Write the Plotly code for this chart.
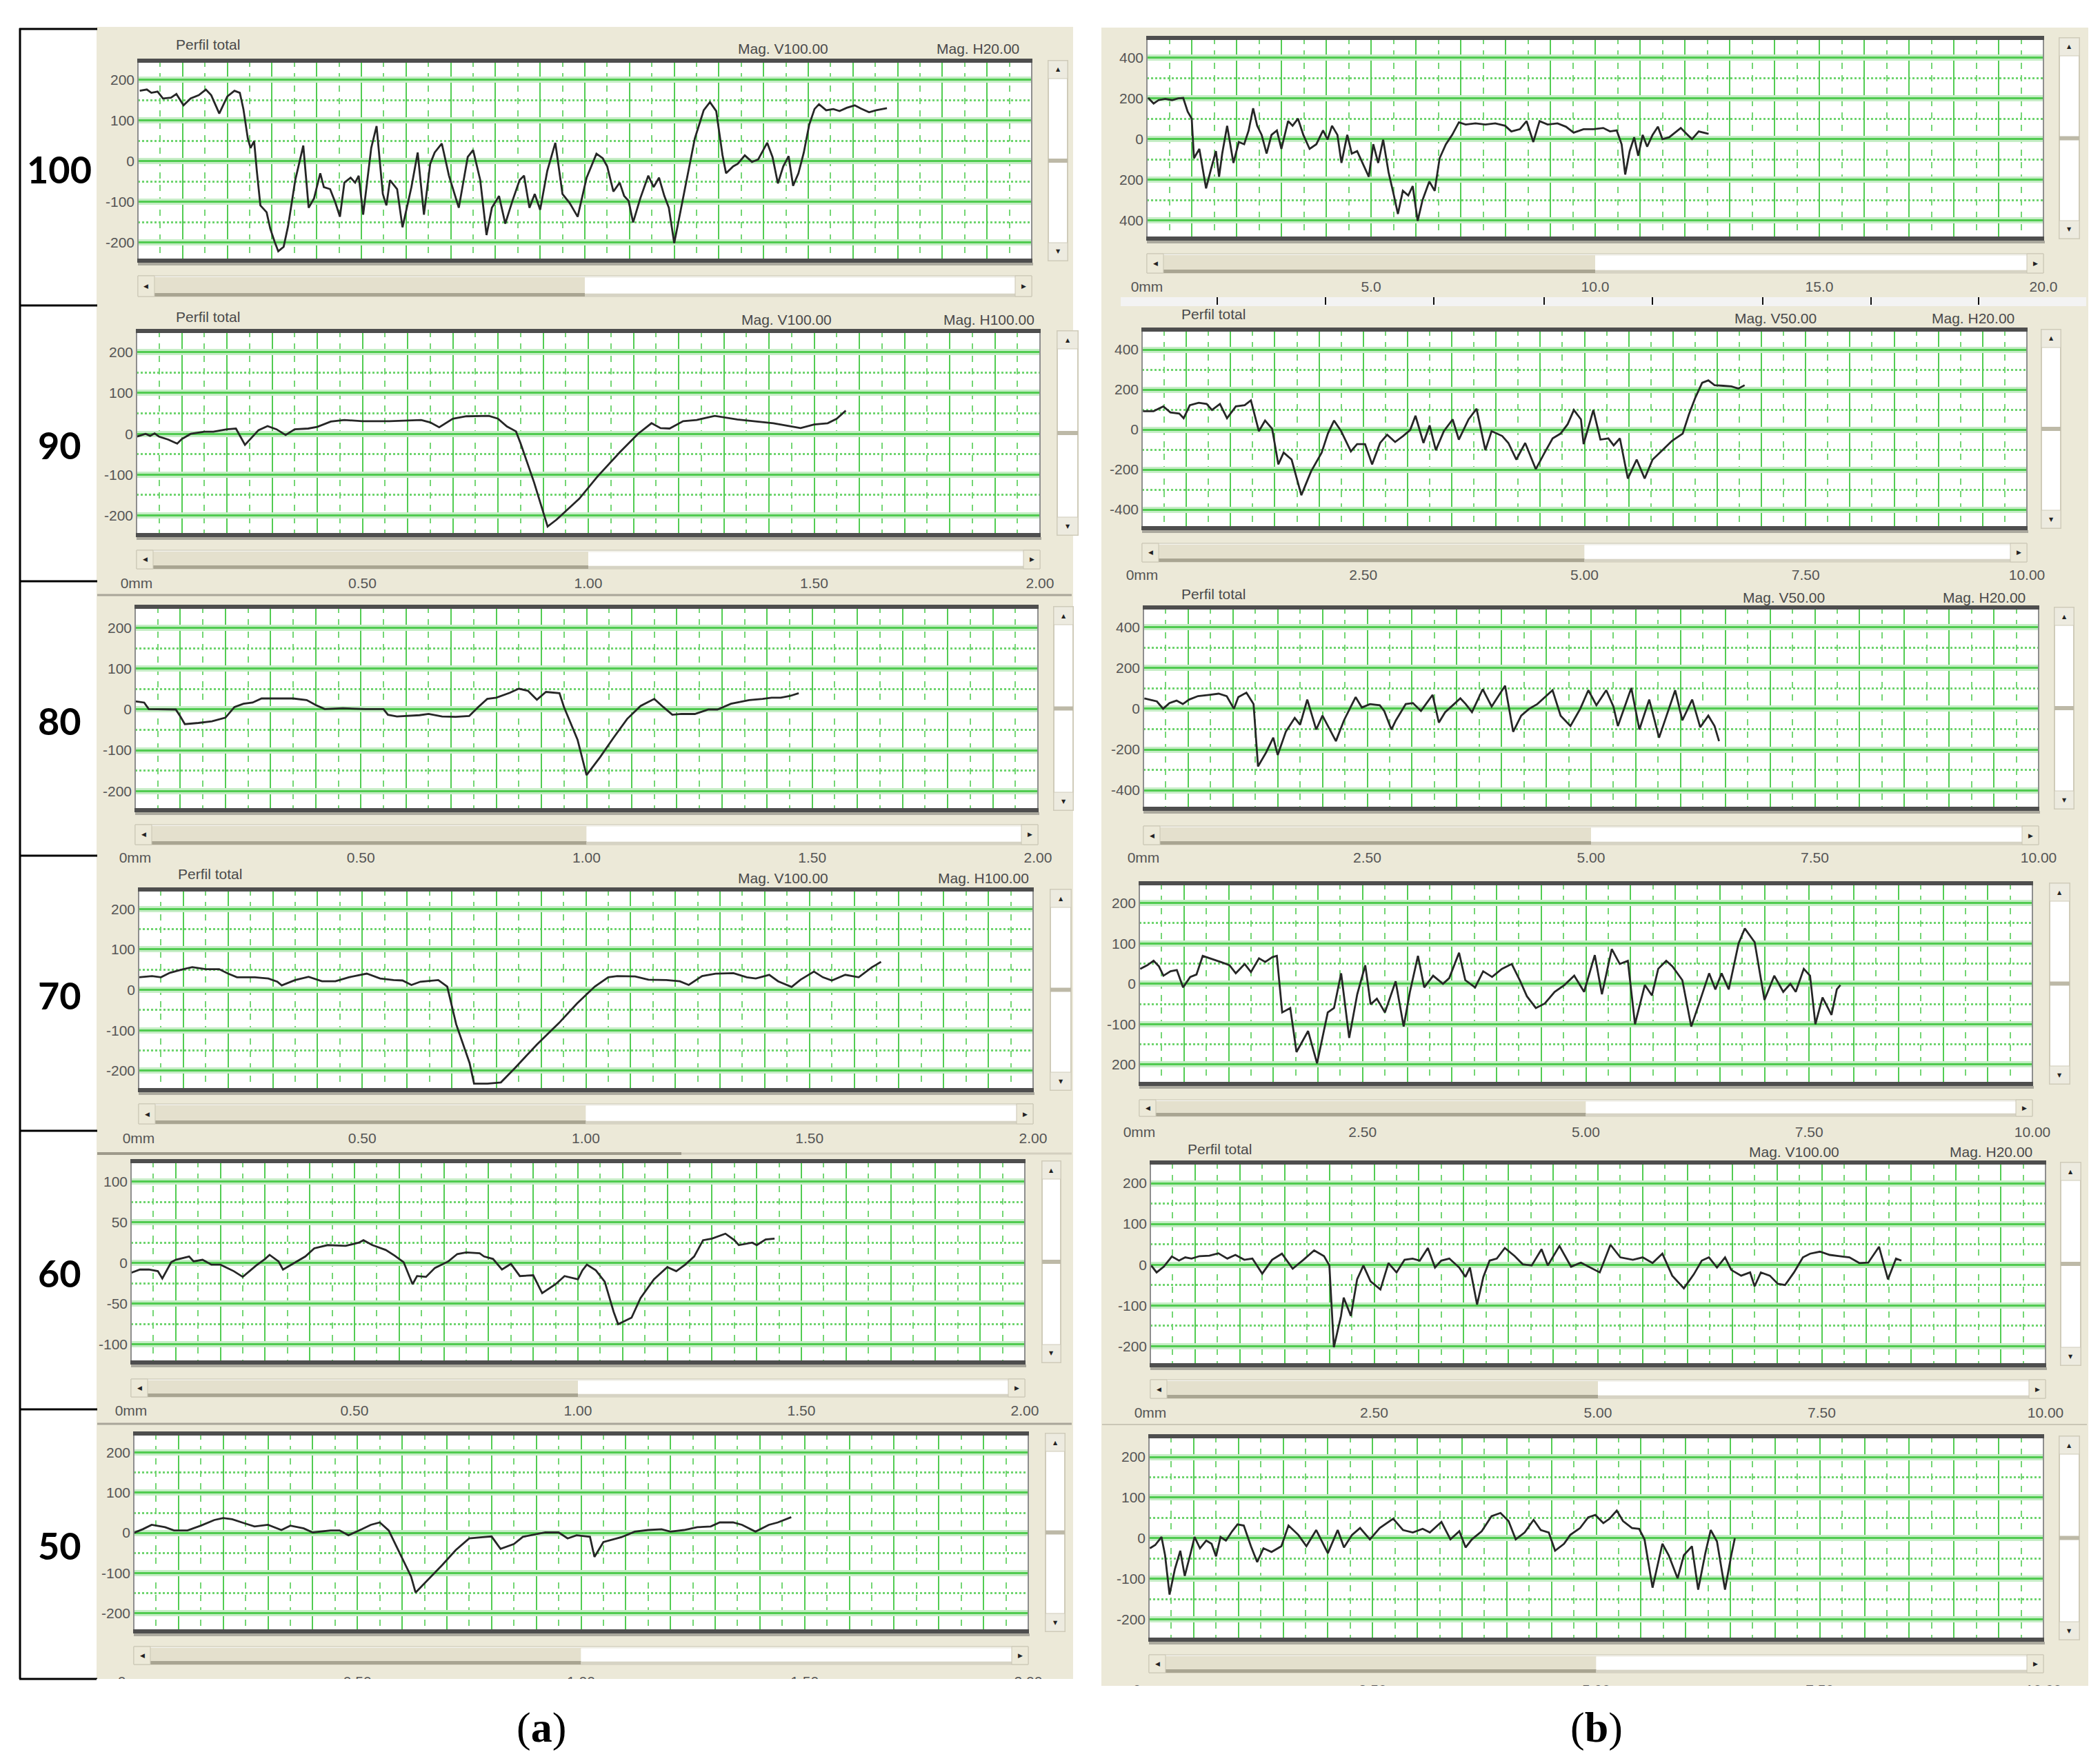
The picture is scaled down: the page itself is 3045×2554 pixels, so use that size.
import numpy as np
import plotly.graph_objects as go

W, H = 3045, 2554

# ---------------- data (x in mm, y in µm) ----------------
A100_X = [0.02,0.10,0.15,0.22,0.28,0.37,0.43,0.51,0.59,0.68,0.76,0.82,0.91,1.00,1.08,1.14,1.18,1.23,1.26,1.30,
          1.33,1.37,1.44,1.48,1.53,1.57,1.63,1.68,1.76,1.85,1.91,1.97,2.04,2.08,2.15,2.21,2.26,2.31,2.38,2.43,
          2.47,2.52,2.61,2.67,2.74,2.78,2.82,2.90,2.96,3.06,3.13,3.20,3.27,3.32,3.40,3.48,3.59,3.69,3.75,3.83,
          3.90,3.96,4.04,4.11,4.19,4.27,4.32,4.38,4.44,4.50,4.58,4.67,4.75,4.83,4.92,5.02,5.13,5.20,5.25,5.32,
          5.39,5.44,5.49,5.54,5.62,5.71,5.77,5.83,5.89,5.94,6.00,6.12,6.23,6.33,6.40,6.47,6.54,6.58,6.66,6.71,
          6.79,6.87,6.94,7.04,7.10,7.16,7.22,7.28,7.33,7.39,7.45,7.51,7.57,7.62,7.70,7.78,7.85,7.93,8.02,8.09,
          8.18,8.26,8.32,8.38]
A100_Y = [173,176,168,171,154,156,165,137,154,162,176,162,117,159,173,168,128,55,32,49,
          -24,-109,-126,-166,-199,-222,-211,-160,-47,38,-115,-92,-30,-64,-69,-103,-137,-53,-41,-53,
          -36,-132,32,86,-81,-109,-47,-69,-163,-64,21,-132,-7,21,43,-36,-115,10,27,-47,
          -182,-115,-86,-154,-98,-47,-36,-115,-81,-120,-24,45,-81,-103,-137,-41,18,7,-13,-75,
          -53,-86,-98,-151,-92,-36,-64,-41,-86,-115,-202,-69,55,125,145,123,15,-30,-13,-7,
          14,-2,4,45,10,-55,-13,12,-61,-30,21,89,128,140,125,128,123,131,137,129,
          120,125,128,130]

A90_X = [0.00,0.02,0.03,0.04,0.05,0.07,0.09,0.10,0.12,0.15,0.17,0.20,0.22,0.24,0.27,0.29,0.31,0.33,0.35,0.38,
         0.40,0.43,0.46,0.50,0.56,0.63,0.65,0.67,0.70,0.73,0.78,0.80,0.82,0.84,0.85,0.88,0.91,0.93,0.98,1.02,
         1.07,1.11,1.14,1.16,1.18,1.21,1.24,1.28,1.33,1.37,1.41,1.44,1.47,1.50,1.53,1.55,1.57]
A90_Y = [-7,0,-5,1,-7,-14,-24,-13,0,5,5,11,13,-27,9,19,11,-3,11,13,
         17,30,34,31,31,34,28,16,37,43,44,37,18,6,-23,-119,-227,-210,-159,-105,
         -45,0,26,14,13,31,34,44,35,31,26,20,14,23,26,37,57]

A80_X = [0.00,0.02,0.03,0.06,0.09,0.10,0.11,0.14,0.17,0.20,0.22,0.24,0.26,0.28,0.32,0.35,0.38,0.40,0.42,0.46,
         0.51,0.55,0.56,0.58,0.63,0.65,0.68,0.71,0.74,0.76,0.78,0.80,0.83,0.85,0.87,0.89,0.91,0.94,0.95,0.98,
         1.00,1.03,1.06,1.09,1.12,1.15,1.17,1.19,1.21,1.24,1.27,1.29,1.32,1.34,1.36,1.39,1.41,1.43,1.45,1.47]
A80_Y = [20,17,1,0,0,-17,-36,-33,-29,-20,6,14,17,27,27,27,23,11,1,3,
         1,1,-13,-17,-14,-11,-17,-18,-16,6,26,29,41,51,46,24,43,40,6,-74,
         -161,-117,-69,-23,9,26,6,-13,-11,-11,0,0,14,18,23,26,29,29,33,40]

A70_X = [0.00,0.03,0.05,0.07,0.10,0.12,0.15,0.18,0.20,0.22,0.26,0.29,0.31,0.32,0.35,0.38,0.41,0.44,0.47,0.51,
         0.54,0.57,0.59,0.61,0.63,0.67,0.69,0.71,0.74,0.75,0.78,0.81,0.84,0.89,0.94,0.98,1.02,1.05,1.07,1.11,
         1.14,1.18,1.21,1.23,1.26,1.29,1.33,1.36,1.38,1.41,1.43,1.46,1.48,1.51,1.53,1.55,1.58,1.61,1.64,1.66]
A70_Y = [31,34,31,42,51,56,51,51,40,31,31,28,20,11,24,32,21,21,31,40,
         28,24,23,12,20,24,8,-85,-181,-232,-232,-229,-195,-136,-82,-34,8,31,34,33,
         25,24,21,12,34,40,41,31,28,37,21,7,25,45,31,23,37,31,56,69]

A60_X = [0.00,0.02,0.04,0.06,0.07,0.09,0.10,0.13,0.14,0.16,0.18,0.20,0.23,0.25,0.28,0.30,0.31,0.33,0.34,0.37,
         0.39,0.41,0.44,0.48,0.51,0.52,0.54,0.57,0.59,0.61,0.63,0.64,0.66,0.68,0.71,0.73,0.75,0.78,0.79,0.81,
         0.83,0.85,0.87,0.90,0.92,0.95,0.97,1.00,1.01,1.02,1.04,1.06,1.08,1.09,1.12,1.14,1.17,1.20,1.22,1.24,
         1.26,1.28,1.30,1.33,1.35,1.36,1.39,1.40,1.42,1.44]
A60_Y = [-12,-8,-8,-10,-19,1,4,8,2,4,-2,-2,-10,-17,-3,5,10,2,-8,2,
         8,18,22,21,25,28,22,16,9,1,-26,-16,-17,-6,2,11,13,12,8,5,
         -8,-1,-16,-15,-37,-26,-16,-20,-9,-2,-9,-23,-60,-75,-67,-43,-20,-5,-10,-2,
         8,28,30,36,28,22,25,22,29,30]

A50_X = [0.00,0.02,0.04,0.07,0.09,0.12,0.15,0.18,0.20,0.22,0.25,0.27,0.30,0.33,0.35,0.38,0.40,0.44,0.46,0.48,
         0.51,0.53,0.55,0.57,0.59,0.62,0.63,0.65,0.69,0.72,0.75,0.78,0.80,0.82,0.85,0.87,0.89,0.92,0.95,0.97,
         0.99,1.02,1.03,1.05,1.09,1.12,1.15,1.18,1.20,1.23,1.26,1.29,1.31,1.34,1.36,1.39,1.42,1.44,1.47]
A50_Y = [0,9,20,14,6,6,18,32,37,34,23,16,20,7,18,11,1,6,6,-6,
         9,20,26,6,-40,-109,-149,-126,-80,-43,-14,-11,-9,-40,-28,-10,-6,1,1,-14,
         -6,-10,-60,-23,-11,3,7,9,3,7,14,16,26,26,20,3,20,26,39]

B100_X = [0.03,0.15,0.26,0.41,0.56,0.70,0.81,0.91,1.00,1.05,1.17,1.32,1.44,1.54,1.61,1.68,1.79,1.93,2.05,2.17,
          2.27,2.37,2.46,2.56,2.67,2.78,2.90,3.00,3.15,3.25,3.37,3.49,3.63,3.78,3.93,4.03,4.13,4.25,4.34,4.47,
          4.57,4.69,4.81,4.95,5.05,5.16,5.27,5.39,5.51,5.60,5.71,5.83,5.93,6.04,6.15,6.30,6.42,6.53,6.67,6.81,
          6.96,7.11,7.33,7.55,7.77,7.99,8.13,8.32,8.47,8.62,8.76,8.94,9.16,9.35,9.52,9.74,9.96,10.18,10.33,10.48,
          10.59,10.67,10.77,10.87,10.96,11.06,11.16,11.28,11.40,11.50,11.65,11.79,11.91,12.04,12.16,12.31,12.43,12.53]
B100_Y = [203,175,192,198,192,201,203,135,101,-94,-48,-242,-139,-59,-185,-71,66,-117,-14,-25,
          43,152,66,21,-71,21,43,-48,89,66,101,21,-48,-25,43,-2,66,21,-117,21,
          -71,-59,-117,-185,-25,-117,-2,-162,-277,-368,-254,-277,-231,-402,-299,-208,-254,-94,-25,21,
          83,72,78,72,78,66,38,49,89,-14,89,72,78,61,32,49,49,55,38,43,
          -25,-174,-59,9,-82,21,-37,21,61,0,9,34,55,26,0,38,32,26]

B90_X = [0.01,0.13,0.24,0.32,0.42,0.47,0.54,0.64,0.73,0.79,0.88,0.96,1.06,1.16,1.23,1.28,1.32,1.39,1.47,1.54,
         1.60,1.69,1.80,1.91,2.03,2.10,2.17,2.25,2.36,2.43,2.52,2.60,2.69,2.77,2.86,2.95,3.03,3.09,3.18,3.25,
         3.32,3.41,3.51,3.58,3.69,3.78,3.88,3.95,4.07,4.14,4.23,4.33,4.45,4.55,4.64,4.73,4.81,4.88,4.96,4.99,
         5.10,5.18,5.27,5.33,5.40,5.49,5.59,5.68,5.77,5.88,5.99,6.11,6.18,6.25,6.33,6.40,6.47,6.57,6.66,6.74,
         6.81]
B90_Y = [92,92,116,86,80,57,122,134,128,98,128,57,116,122,146,63,-8,45,4,-174,
         -115,-150,-328,-209,-115,-20,45,-8,-109,-73,-73,-174,-67,-26,-62,-32,-2,69,-67,21,
         -103,-8,51,-50,51,104,-103,-8,-32,-67,-150,-67,-198,-115,-44,-20,27,98,51,-73,
         98,-50,-44,-79,-44,-245,-150,-245,-150,-103,-56,-20,75,157,234,246,222,219,216,205,
         222]

B80_X = [0.01,0.07,0.15,0.22,0.29,0.37,0.44,0.51,0.61,0.73,0.84,0.93,1.01,1.06,1.15,1.23,1.28,1.37,1.45,1.50,
         1.59,1.69,1.75,1.83,1.93,2.00,2.15,2.24,2.37,2.44,2.53,2.64,2.69,2.77,2.82,2.93,3.01,3.10,3.23,3.30,
         3.37,3.47,3.54,3.60,3.67,3.79,3.89,4.04,4.13,4.22,4.31,4.40,4.57,4.66,4.77,4.88,4.97,5.06,5.17,5.25,
         5.30,5.45,5.54,5.65,5.76,5.87,5.94,6.02,6.13,6.22,6.31,6.38,6.43]
B80_Y = [51,45,36,0,28,40,23,45,62,68,74,62,0,57,79,23,-283,-215,-142,-227,
         -113,-45,-79,45,-102,-34,-159,-57,57,6,23,17,-11,-102,-57,23,28,-11,68,-68,
         -17,23,51,23,-17,96,11,113,-113,-34,0,23,91,-34,-85,0,91,17,91,11,
         -85,102,-102,45,-142,0,91,-57,45,-91,-34,-85,-159]

B70_X = [0.01,0.09,0.16,0.22,0.27,0.35,0.42,0.49,0.57,0.64,0.71,0.82,0.91,1.01,1.08,1.18,1.25,1.34,1.41,1.49,
         1.54,1.60,1.69,1.76,1.89,1.99,2.11,2.18,2.26,2.35,2.44,2.53,2.59,2.66,2.75,2.87,2.96,3.03,3.12,3.19,
         3.29,3.40,3.47,3.58,3.65,3.76,3.85,3.95,4.06,4.17,4.26,4.34,4.44,4.54,4.65,4.76,4.87,4.98,5.10,5.18,
         5.29,5.38,5.47,5.55,5.66,5.74,5.81,5.90,5.97,6.08,6.18,6.26,6.38,6.45,6.52,6.60,6.71,6.78,6.89,7.00,
         7.11,7.21,7.29,7.35,7.44,7.51,7.57,7.65,7.75,7.81,7.85]
B70_Y = [37,46,57,43,20,31,34,-9,17,23,69,60,54,46,26,49,29,63,54,66,
         69,-71,-60,-169,-117,-197,-71,-60,26,-134,-26,46,-51,-37,-71,6,-106,-20,69,-9,
         20,0,14,77,9,-9,31,17,37,49,9,-31,-60,-49,-20,-3,20,-20,71,-26,
         86,49,57,-100,-3,-29,37,57,43,9,-106,-54,26,-14,26,-14,100,137,103,-40,
         20,-20,0,-20,37,20,-100,-34,-77,-14,-3]

B60_X = [0.01,0.07,0.15,0.24,0.32,0.39,0.46,0.55,0.66,0.76,0.86,0.95,1.05,1.14,1.25,1.36,1.47,1.59,1.71,1.83,
         1.94,2.00,2.05,2.13,2.16,2.24,2.31,2.38,2.46,2.57,2.66,2.75,2.84,2.93,3.01,3.10,3.18,3.25,3.34,3.45,
         3.52,3.57,3.65,3.72,3.79,3.87,3.96,4.07,4.16,4.26,4.37,4.44,4.57,4.70,4.81,4.92,5.02,5.14,5.25,5.39,
         5.50,5.61,5.72,5.83,5.96,6.07,6.16,6.24,6.33,6.42,6.49,6.60,6.70,6.75,6.82,6.92,7.01,7.09,7.19,7.29,
         7.37,7.48,7.59,7.70,7.81,7.92,8.02,8.14,8.24,8.33,8.39]
B60_Y = [-2,-19,-5,20,10,18,15,21,22,28,15,24,12,15,-22,12,27,-10,12,35,
         21,-2,-203,-126,-81,-126,-36,-2,-41,-61,4,-19,12,15,10,41,-7,10,15,-7,
         -30,-7,-98,-30,10,15,41,21,1,-2,38,-2,46,-5,5,-7,-19,49,18,12,
         18,4,27,-27,-58,-24,10,18,-7,18,-13,-27,-19,-53,-19,-27,-47,-50,-19,18,
         27,32,24,21,18,4,5,44,-36,15,10]

B50_X = [0.01,0.07,0.14,0.18,0.23,0.29,0.35,0.40,0.46,0.51,0.57,0.64,0.70,0.75,0.80,0.86,0.93,0.99,1.06,1.14,
         1.21,1.28,1.37,1.48,1.56,1.67,1.76,1.87,2.00,2.11,2.18,2.27,2.36,2.47,2.58,2.73,2.84,2.95,3.06,3.14,
         3.27,3.37,3.47,3.54,3.61,3.72,3.83,3.93,4.02,4.10,4.20,4.30,4.38,4.47,4.54,4.64,4.71,4.82,4.91,4.99,
         5.08,5.15,5.23,5.30,5.40,5.48,5.54,5.63,5.74,5.81,5.91,5.98,6.07,6.14,6.22,6.28,6.35,6.44,6.51,6.55]
B50_Y = [-25,-17,3,-42,-139,-76,-31,-93,-42,3,-25,-6,-14,-45,3,-6,17,34,31,-20,
         -59,-25,-34,-20,31,8,-20,20,-37,20,-23,8,25,-3,25,48,20,14,23,14,
         40,-3,17,-23,-3,17,54,62,42,-3,14,45,20,14,-31,-14,8,25,51,57,
         37,48,68,42,25,23,-3,-122,-14,-42,-99,-42,-20,-127,-37,20,-8,-127,-42,0]

# ---------------- tick labels ----------------
A_XT_VALS = [0, 0.5, 1.0, 1.5, 2.0]
A_XT_TEXT = ["0mm", "0.50", "1.00", "1.50", "2.00"]
B_XT_VALS = [0, 2.5, 5.0, 7.5, 10.0]
B_XT_TEXT = ["0mm", "2.50", "5.00", "7.50", "10.00"]
B100_XT_VALS = [0, 5, 10, 15, 20]
B100_XT_TEXT = ["0mm", "5.0", "10.0", "15.0", "20.0"]

YT_200 = [200, 100, 0, -100, -200]
YT_200_TEXT = ["200", "100", "0", "-100", "-200"]
YT_200_TEXT_B70 = ["200", "100", "0", "-100", "200"]
YT_100 = [100, 50, 0, -50, -100]
YT_100_TEXT = ["100", "50", "0", "-50", "-100"]
YT_400 = [400, 200, 0, -200, -400]
YT_400_TEXT = ["400", "200", "0", "-200", "-400"]
YT_400_TEXT_B100 = ["400", "200", "0", "200", "400"]

ROW_LABELS = ["100", "90", "80", "70", "60", "50"]
CAPTIONS = ["(<b>a</b>)", "(<b>b</b>)"]

# ---------------- layout geometry (pixels) ----------------
PANELS = [
    dict(x=A100_X, y=A100_Y, xmax=10, xstep=0.5, yr=[-245, 247], yt=YT_200, ytt=YT_200_TEXT, xt=[], xtt=[],
         box=(192, 1488, 80, 370), hs=(392, 422), xl=None, vs=(1512, 1540),
         labels=[("Perfil total", 245, 57), ("Mag. V100.00", 1060, 62), ("Mag. H20.00", 1348, 62)]),
    dict(x=A90_X, y=A90_Y, xmax=2, xstep=0.1, yr=[-248, 252], yt=YT_200, ytt=YT_200_TEXT, xt=A_XT_VALS, xtt=A_XT_TEXT,
         box=(190, 1500, 472, 768), hs=(790, 817), xl=837, vs=(1525, 1555),
         labels=[("Perfil total", 245, 452), ("Mag. V100.00", 1065, 455), ("Mag. H100.00", 1358, 455)]),
    dict(x=A80_X, y=A80_Y, xmax=2, xstep=0.1, yr=[-247, 252], yt=YT_200, ytt=YT_200_TEXT, xt=A_XT_VALS, xtt=A_XT_TEXT,
         box=(188, 1497, 872, 1167), hs=(1188, 1217), xl=1235, vs=(1520, 1548), labels=[]),
    dict(x=A70_X, y=A70_Y, xmax=2, xstep=0.1, yr=[-248, 248], yt=YT_200, ytt=YT_200_TEXT, xt=A_XT_VALS, xtt=A_XT_TEXT,
         box=(193, 1490, 1282, 1573), hs=(1593, 1622), xl=1642, vs=(1515, 1545),
         labels=[("Perfil total", 248, 1260), ("Mag. V100.00", 1060, 1265), ("Mag. H100.00", 1350, 1265)]),
    dict(x=A60_X, y=A60_Y, xmax=2, xstep=0.1, yr=[-122, 125], yt=YT_100, ytt=YT_100_TEXT, xt=A_XT_VALS, xtt=A_XT_TEXT,
         box=(182, 1478, 1676, 1968), hs=(1992, 2018), xl=2037, vs=(1503, 1530), labels=[]),
    dict(x=A50_X, y=A50_Y, xmax=2, xstep=0.1, yr=[-246, 248], yt=YT_200, ytt=YT_200_TEXT, xt=A_XT_VALS, xtt=A_XT_TEXT,
         box=(186, 1483, 2071, 2358), hs=(2380, 2406), xl=2430, vs=(1508, 1536), labels=[]),
    dict(x=B100_X, y=B100_Y, xmax=20, xstep=1.0, yr=[-489, 498], yt=YT_400, ytt=YT_400_TEXT_B100, xt=B100_XT_VALS, xtt=B100_XT_TEXT,
         box=(1655, 2955, 47, 338), hs=(360, 388), xl=407, vs=(2978, 3007), labels=[]),
    dict(x=B90_X, y=B90_Y, xmax=10, xstep=0.5, yr=[-493, 500], yt=YT_400, ytt=YT_400_TEXT, xt=B_XT_VALS, xtt=B_XT_TEXT,
         box=(1648, 2931, 470, 758), hs=(780, 807), xl=825, vs=(2952, 2980),
         labels=[("Perfil total", 1703, 448), ("Mag. V50.00", 2505, 453), ("Mag. H20.00", 2791, 453)]),
    dict(x=B80_X, y=B80_Y, xmax=10, xstep=0.5, yr=[-491, 497], yt=YT_400, ytt=YT_400_TEXT, xt=B_XT_VALS, xtt=B_XT_TEXT,
         box=(1650, 2948, 873, 1165), hs=(1190, 1217), xl=1235, vs=(2971, 2999),
         labels=[("Perfil total", 1703, 853), ("Mag. V50.00", 2517, 858), ("Mag. H20.00", 2807, 858)]),
    dict(x=B70_X, y=B70_Y, xmax=10, xstep=0.5, yr=[-248, 249], yt=YT_200, ytt=YT_200_TEXT_B70, xt=B_XT_VALS, xtt=B_XT_TEXT,
         box=(1644, 2939, 1273, 1564), hs=(1587, 1611), xl=1633, vs=(2964, 2993), labels=[]),
    dict(x=B60_X, y=B60_Y, xmax=10, xstep=0.5, yr=[-247, 251], yt=YT_200, ytt=YT_200_TEXT, xt=B_XT_VALS, xtt=B_XT_TEXT,
         box=(1660, 2958, 1678, 1972), hs=(1993, 2020), xl=2040, vs=(2980, 3009),
         labels=[("Perfil total", 1712, 1658), ("Mag. V100.00", 2526, 1662), ("Mag. H20.00", 2817, 1662)]),
    dict(x=B50_X, y=B50_Y, xmax=10, xstep=0.5, yr=[-250, 251], yt=YT_200, ytt=YT_200_TEXT, xt=B_XT_VALS, xtt=B_XT_TEXT,
         box=(1658, 2955, 2075, 2370), hs=(2392, 2418), xl=2442, vs=(2978, 3007), labels=[]),
]
ROW_LABEL_Y = [237, 637, 1037, 1435, 1838, 2233]

FONT = "Liberation Sans, Arial, sans-serif"
BEIGE = "#ECE9D8"


def PX(x):
    return x / W


def PY(y):
    return 1 - y / H


shapes, annots = [], []


def rect(x0, y0, x1, y1, fill, line=None, lw=0, layer="below"):
    shapes.append(dict(type="rect", xref="paper", yref="paper",
                       x0=PX(x0), x1=PX(x1), y0=PY(y1), y1=PY(y0),
                       fillcolor=fill, line=dict(color=line if line else fill, width=lw), layer=layer))


def seg(x0, y0, x1, y1, color, w, layer="below"):
    shapes.append(dict(type="line", xref="paper", yref="paper",
                       x0=PX(x0), x1=PX(x1), y0=PY(y0), y1=PY(y1),
                       line=dict(color=color, width=w), layer=layer))


def text(x, y, s, size=21, color="#4a4a4a", xanchor="left", family=FONT):
    annots.append(dict(xref="paper", yref="paper", x=PX(x), y=PY(y), text=s, showarrow=False,
                       xanchor=xanchor, yanchor="middle", font=dict(family=family, size=size, color=color)))


# backgrounds of the two screenshot columns
rect(132, 31, 1548, 2427, BEIGE)
rect(1589, 32, 3020, 2437, BEIGE)
# screenshot seams
seg(133, 855, 1546, 855, "#A9A699", 3)
seg(133, 1665, 980, 1665, "#9E9A8B", 4)
seg(980, 1665, 1546, 1665, "#D3CFBF", 3)
seg(133, 2057, 1546, 2057, "#A9A699", 3)
seg(1590, 2058, 3018, 2058, "#CAC6B6", 2)
# ruler strip under the first (b) panel
rect(1617, 423, 3017, 436, "#F3F3F3")
for tx in [1757, 1914, 2071, 2231, 2388, 2548, 2705, 2861]:
    seg(tx, 423, tx, 434, "#111111", 2)

# label box on the left
seg(21, 33, 21, 2427, "black", 3)
for yy in [34, 435, 835, 1233, 1632, 2036, 2427]:
    seg(20, yy, 133, yy, "black", 3)
for lab, yy in zip(ROW_LABELS, ROW_LABEL_Y):
    text(78, yy, "<b>" + lab + "</b>", size=54, color="black", xanchor="center", family="Lato, Noto Sans, sans-serif")

axes = {}
fig = go.Figure()

for i, p in enumerate(PANELS):
    n = i + 1
    sfx = "" if n == 1 else str(n)
    xname, yname = "x" + sfx, "y" + sfx
    on = n + 12
    x0, x1, y0, y1 = p["box"]

    # white plotting area
    rect(x0, y0, x1, y1, "white")

    # grid positions
    xstep, xmax = p["xstep"], p["xmax"]
    major_x = np.round(np.arange(0, xmax + 1e-9, xstep), 4)
    minor_x = np.round(major_x[:-1] + xstep / 2, 4)
    lab_map = {round(float(v), 4): t for v, t in zip(p["xt"], p["xtt"])}
    xt_text = [lab_map.get(round(float(v), 4), "") for v in major_x]

    ystep = p["yt"][0] - p["yt"][1]
    cand = [t + ystep / 2 for t in p["yt"]] + [p["yt"][-1] - ystep / 2]
    minor_y = [c for c in cand if p["yr"][0] < c < p["yr"][1]]

    standoff = 0 if p["xl"] is None else max(0, p["xl"] - y1 - 14)

    axes["xaxis" + sfx] = dict(
        domain=[PX(x0), PX(x1)], anchor=yname, range=[0, xmax], fixedrange=True,
        tickmode="array", tickvals=list(major_x), ticktext=xt_text,
        showgrid=True, gridcolor="#52CC52", gridwidth=2, zeroline=False, showline=False, ticks="",
        minor=dict(tickmode="array", tickvals=list(minor_x), showgrid=True, gridcolor="#74D674",
                   gridwidth=1.5, griddash="dash", ticks=""),
        tickfont=dict(family=FONT, size=21, color="#555555"), ticklabelstandoff=standoff, automargin=False)
    axes["yaxis" + sfx] = dict(
        domain=[PY(y1), PY(y0)], anchor=xname, range=p["yr"], fixedrange=True,
        tickmode="array", tickvals=p["yt"], ticktext=p["ytt"],
        showgrid=True, gridcolor="#C6EDC6", gridwidth=9, zeroline=False, showline=False, ticks="",
        tickfont=dict(family=FONT, size=21, color="#555555"), ticklabelstandoff=4, automargin=False)
    axes["yaxis" + str(on)] = dict(
        overlaying=yname, anchor=xname, range=p["yr"], fixedrange=True, side="left",
        tickmode="array", tickvals=p["yt"], showticklabels=False,
        showgrid=True, gridcolor="#50CB50", gridwidth=3, zeroline=False, showline=False, ticks="",
        minor=dict(tickmode="array", tickvals=minor_y, showgrid=True, gridcolor="#6ED46E",
                   gridwidth=3, griddash="dot", ticks=""), automargin=False)

    m = min(len(p["x"]), len(p["y"]))
    fig.add_trace(go.Scatter(x=[None], y=[None], xaxis=xname, yaxis="y" + str(on), mode="lines",
                             showlegend=False, hoverinfo="skip"))
    fig.add_trace(go.Scatter(x=p["x"][:m], y=p["y"][:m], xaxis=xname, yaxis=yname, mode="lines",
                             line=dict(color="#262626", width=2.8), showlegend=False, hoverinfo="skip"))

    # plot frame
    shapes.append(dict(type="rect", xref="paper", yref="paper", x0=PX(x0), x1=PX(x1), y0=PY(y1), y1=PY(y0),
                       fillcolor="rgba(0,0,0,0)", line=dict(color="#8E8E8E", width=2), layer="above"))
    rect(x0 - 1, y0 - 3, x1 + 1, y0 + 3, "#4E4E4E", layer="above")
    rect(x0 - 1, y1 - 3, x1 + 1, y1 + 3, "#4E4E4E", layer="above")
    rect(x0, y1 + 3, x1 + 2, y1 + 7, "#ABA99E", layer="above")

    # horizontal scrollbar
    hs0, hs1 = p["hs"]
    xm = (x0 + x1) / 2
    rect(x0, hs0, x1, hs1, "#F3F2EC", line="#C9C5B3", lw=1)
    rect(x0 + 24, hs0 + 2, xm, hs1 - 5, "#E4E0CD")
    rect(x0, hs1 - 5, xm, hs1, "#A9A592")
    rect(xm, hs1 - 4, x1, hs1, "#D6D3C4")
    rect(xm, hs0 + 3, x1 - 24, hs1 - 5, "white")
    rect(x0, hs0, x0 + 24, hs1, "#ECE9D8", line="#C9C5B3", lw=1)
    rect(x1 - 24, hs0, x1, hs1, "#ECE9D8", line="#C9C5B3", lw=1)
    text(x0 + 12, (hs0 + hs1) / 2, "◀", size=9, color="#222222", xanchor="center", family="DejaVu Sans")
    text(x1 - 12, (hs0 + hs1) / 2, "▶", size=9, color="#222222", xanchor="center", family="DejaVu Sans")

    # vertical scrollbar
    v0, v1 = p["vs"]
    ym = (y0 + y1) / 2
    vc = (v0 + v1) / 2
    rect(v0, y0, v1, y1, "white", line="#CFCBB9", lw=2)
    rect(v0, y0, v1, y0 + 26, "#EDEBE0", line="#CFCBB9", lw=1)
    rect(v0, y1 - 26, v1, y1, "#EDEBE0", line="#CFCBB9", lw=1)
    rect(v0, ym - 3, v1, ym + 3, "#BDB9A7")
    text(vc, y0 + 13, "▲", size=8, color="#222222", xanchor="center", family="DejaVu Sans")
    text(vc, y1 - 13, "▼", size=8, color="#222222", xanchor="center", family="DejaVu Sans")

    for s, lx, ly in p["labels"]:
        text(lx, ly, s, size=21, color="#4a4a4a")

# partly hidden tick labels at the bottom edge of the screenshots
rect(132, 2427, 1548, 2465, "white", layer="above")
rect(1589, 2437, 3025, 2475, "white", layer="above")

# captions
text(777, 2497, CAPTIONS[0], size=62, color="black", xanchor="center", family="Liberation Serif, serif")
text(2307, 2497, CAPTIONS[1], size=62, color="black", xanchor="center", family="Liberation Serif, serif")

fig.update_layout(width=W, height=H, margin=dict(l=0, r=0, t=0, b=0), autosize=False,
                  paper_bgcolor="white", plot_bgcolor="rgba(0,0,0,0)", showlegend=False,
                  shapes=shapes, annotations=annots, **axes)

fig.write_html("out.html")
